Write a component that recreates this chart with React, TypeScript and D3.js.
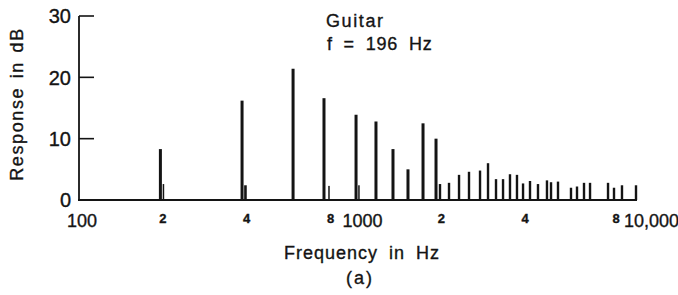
import * as d3 from 'd3';

// harmonic peaks (Hz, dB)
const peakFreqs = [
  196, 385, 587, 758, 988, 1165, 1341, 1518, 1719, 1914,
  1978, 2131, 2315, 2514, 2754, 2942, 3143, 3331, 3528, 3738,
  3930, 4163, 4447, 4790, 4953, 5247, 5842, 6140, 6506, 6838,
  7935, 8337, 8906, 10000,
];
const peakDb = [
  8.3, 16.2, 21.4, 16.6, 13.9, 12.8, 8.3, 5.0, 12.5, 10.0,
  2.6, 2.8, 4.1, 4.6, 4.8, 6.0, 3.4, 3.4, 4.2, 4.1,
  2.7, 3.1, 2.6, 3.2, 2.9, 3.0, 2.0, 2.2, 2.8, 2.8,
  2.8, 2.0, 2.4, 2.4,
];

// small side lines next to the first few peaks
const sideFreqs = [201, 396, 790, 1012];
const sideDb = [2.6, 2.4, 2.3, 2.4];

const yTicks = [0, 10, 20, 30];
const xTickValues = [100, 200, 400, 800, 1000, 2000, 4000, 8000, 10000];
const xTickLabels = ['100', '2', '4', '8', '1000', '2', '4', '8', '10,000'];

const W = 678;
const H = 295;
const ink = '#141414';
const font = 'Liberation Sans, Arial, Helvetica, sans-serif';

export default function App() {
  const x = d3.scaleLog().domain([100, 10000]).range([79, 636]);
  const y = d3.scaleLinear().domain([0, 30]).range([200, 16]);

  const peaks = peakFreqs.map((f, i) => ({ f, db: peakDb[i] }));
  const sides = sideFreqs.map((f, i) => ({ f, db: sideDb[i] }));

  const small = (v: number) => v !== 100 && v !== 1000 && v !== 10000;
  // printed type is a little heavier than the screen font
  const txt = { fontFamily: font, fill: ink, stroke: ink, strokeWidth: 0.35 };

  return (
    <div style={{ position: 'fixed', left: 0, top: 0, background: '#fff' }}>
      <svg width={W} height={H} style={{ display: 'block' }}>
        <rect width={W} height={H} fill="#fff" />

        {/* bars */}
        {peaks.map((d, i) => {
          const w = d.f < 1950 ? 3 : 2.4;
          return (
            <rect
              key={'p' + i}
              x={x(d.f) - w / 2}
              y={y(d.db)}
              width={w}
              height={y(0) - y(d.db)}
              fill={ink}
            />
          );
        })}
        {sides.map((d, i) => {
          const w = i === 1 ? 2.6 : 1.5;
          return (
            <rect
              key={'s' + i}
              x={x(d.f) - w / 2}
              y={y(d.db)}
              width={w}
              height={y(0) - y(d.db)}
              fill={ink}
            />
          );
        })}

        {/* y axis */}
        <line x1={x(100)} x2={x(100)} y1={y(30)} y2={y(0)} stroke={ink} strokeWidth={1.8} />
        {yTicks.map((t) => (
          <g key={t}>
            <line x1={x(100)} x2={x(100) + 15} y1={y(t)} y2={y(t)} stroke={ink} strokeWidth={1.6} />
            <text x={71} y={y(t)} dy="0.36em" textAnchor="end" fontSize={20} {...txt}>
              {t}
            </text>
          </g>
        ))}

        {/* x axis */}
        <line x1={x(100) - 1} x2={x(10000) + 1} y1={y(0)} y2={y(0)} stroke={ink} strokeWidth={2} />
        {xTickValues.map((v, i) => {
          const lbl = xTickLabels[i];
          let dx = 0;
          if (v === 100) dx = 3;
          if (v === 1000) dx = 5;
          if (v === 8000) dx = 7;
          if (v === 10000) dx = -12;
          return (
            <text
              key={v}
              x={x(v) + dx}
              y={small(v) ? 223 : 227}
              textAnchor={v === 10000 ? 'start' : 'middle'}
              fontWeight={small(v) ? 'bold' : 'normal'}
              fontSize={small(v) ? 13 : 18}
              {...txt}
            >
              {lbl}
            </text>
          );
        })}

        {/* titles */}
        <text
          transform="translate(23,104) rotate(-90)"
          textAnchor="middle"
          fontSize={18}
          letterSpacing={1.6}
          wordSpacing={2}
          {...txt}
        >
          Response in dB
        </text>
        <text x={362} y={259} textAnchor="middle" fontSize={18} letterSpacing={1} wordSpacing={5} {...txt}>
          Frequency in Hz
        </text>
        <text x={360} y={284} textAnchor="middle" fontSize={18} letterSpacing={2} {...txt}>
          (a)
        </text>

        {/* annotation */}
        <text x={326} y={27} fontSize={18} letterSpacing={1.6} {...txt}>
          Guitar
        </text>
        <text x={327} y={50} fontSize={18} letterSpacing={0.8} wordSpacing={5} {...txt}>
          f = 196 Hz
        </text>
      </svg>
    </div>
  );
}
